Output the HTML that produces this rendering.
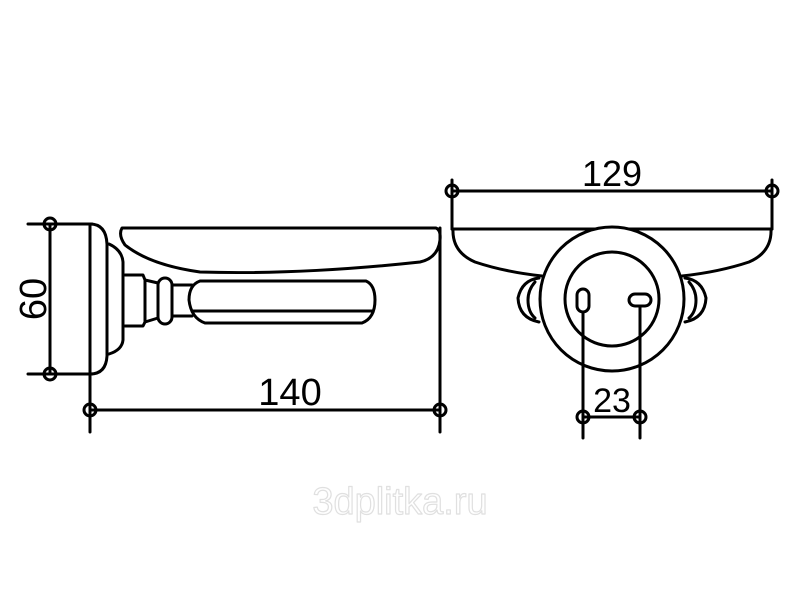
<!DOCTYPE html>
<html><head><meta charset="utf-8"><style>
html,body{margin:0;padding:0;background:#fff;width:800px;height:600px;overflow:hidden}
svg{display:block}
</style></head><body>
<svg width="800" height="600" viewBox="0 0 800 600" xmlns="http://www.w3.org/2000/svg" fill="none" stroke="#000" stroke-width="3" stroke-linecap="round" stroke-linejoin="round">
<line x1="28" y1="224" x2="92" y2="224"/>
<line x1="28" y1="374" x2="92" y2="374"/>
<line x1="50" y1="224" x2="50" y2="374"/>
<circle cx="50" cy="224" r="6"/>
<circle cx="50" cy="374" r="6"/>
<text x="0" y="0" transform="translate(46,299) rotate(-90)" text-anchor="middle" font-family="Liberation Sans, sans-serif" font-size="38" fill="#000" stroke="none">60</text>
<line x1="90" y1="224" x2="90" y2="432"/>
<path d="M90 224 Q106 224 107 244 L107 356 Q106 374 90 374"/>
<path d="M109 244 Q122 250 123 262 L123 340 Q122 350 109 354"/>
<path d="M122 228 L436 228 Q441 230 440 240 Q438 258 420 262 Q300 275 200 272 Q150 265 125 245 Q118 235 122 228 Z"/>
<path d="M125 275 L143 275 L145 280 L145 322 L143 326 L125 326"/>
<path d="M145 280 L158 283 M145 322 L158 318"/>
<rect x="158" y="278" width="14" height="46" rx="7"/>
<path d="M172 285 L192 285 M172 316 L192 316"/>
<path d="M200 281 L366 281 Q375 285 375 300 Q375 318 362 323 L205 323 Q191 318 189 300 Q189 285 200 281 Z"/>
<path d="M192 311 L373 311"/>
<line x1="440" y1="228" x2="440" y2="432"/>
<line x1="90" y1="410" x2="440" y2="410"/>
<circle cx="90" cy="410" r="6"/>
<circle cx="440" cy="410" r="6"/>
<text x="290" y="405" text-anchor="middle" font-family="Liberation Sans, sans-serif" font-size="38" fill="#000" stroke="none">140</text>
<line x1="452" y1="180" x2="452" y2="229"/>
<line x1="772" y1="180" x2="772" y2="229"/>
<line x1="452" y1="191" x2="772" y2="191"/>
<circle cx="452" cy="191" r="6"/>
<circle cx="772" cy="191" r="6"/>
<text x="612" y="186" text-anchor="middle" font-family="Liberation Sans, sans-serif" font-size="36" fill="#000" stroke="none">129</text>
<path d="M452 229 L772 229"/>
<path d="M453 229 Q452 252 475 262 Q505 272 542 276"/>
<path d="M771 229 Q772 252 749 262 Q719 272 682 276"/>
<path d="M539 278 Q522 280 518 298 Q519 318 539 322"/>
<path d="M535 282 Q528 290 528 300 Q528 312 535 318"/>
<path d="M685 278 Q702 280 706 298 Q705 318 685 322"/>
<path d="M689 282 Q696 290 696 300 Q696 312 689 318"/>
<circle cx="612" cy="299" r="72" fill="#fff"/>
<circle cx="612" cy="299" r="47"/>
<rect x="577" y="289" width="12" height="23" rx="6"/>
<rect x="629" y="294" width="22" height="12" rx="6"/>
<line x1="583" y1="312" x2="583" y2="438"/>
<line x1="640" y1="306" x2="640" y2="438"/>
<line x1="583" y1="417" x2="640" y2="417"/>
<circle cx="583" cy="417" r="6"/>
<circle cx="640" cy="417" r="6"/>
<text x="612" y="412" text-anchor="middle" font-family="Liberation Sans, sans-serif" font-size="34" fill="#000" stroke="none">23</text>
<text x="400" y="514" text-anchor="middle" font-family="Liberation Sans, sans-serif" font-size="38" fill="#fff" stroke="#e0e0e0" stroke-width="1.2">3dplitka.ru</text>
</svg>
</body></html>
